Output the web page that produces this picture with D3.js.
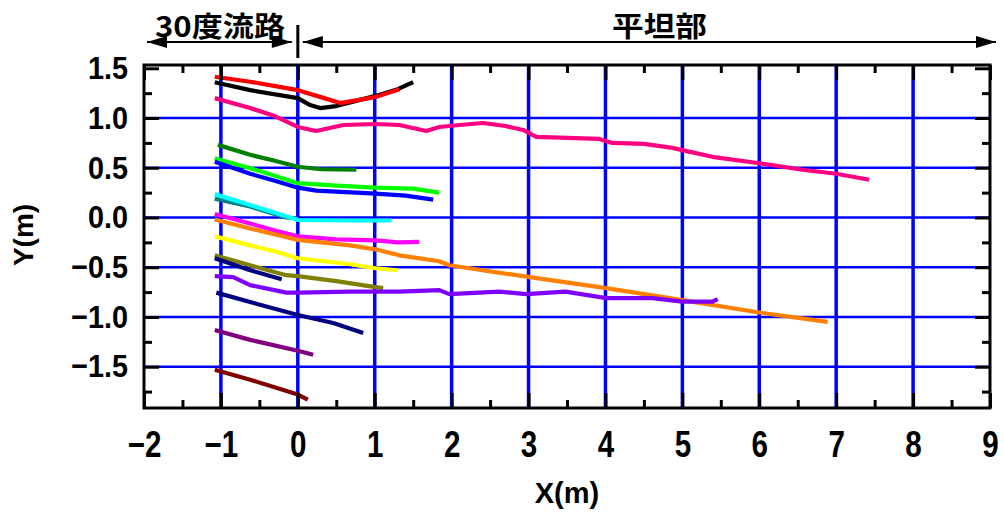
<!DOCTYPE html>
<html>
<head>
<meta charset="utf-8">
<script src="https://cdn.jsdelivr.net/npm/d3@7"></script>
<style>
  html, body { margin: 0; padding: 0; background: #fff; }
  svg { display: block; }
</style>
</head>
<body>
<svg id="chart" width="1004" height="518"></svg>
<script>
// ---------------- DATA ----------------
const xTickValues = [-2, -1, 0, 1, 2, 3, 4, 5, 6, 7, 8, 9];
const xTickLabels = ["−2", "−1", "0", "1", "2", "3", "4", "5", "6", "7", "8", "9"];
const yTickValues = [-1.5, -1.0, -0.5, 0.0, 0.5, 1.0, 1.5];
const yTickLabels = ["−1.5", "−1.0", "−0.5", "0.0", "0.5", "1.0", "1.5"];
const xGridValues = [-1, 0, 1, 2, 3, 4, 5, 6, 7, 8];
const yGridValues = [-1.5, -1.0, -0.5, 0.0, 0.5, 1.0];
const xMinorValues = [-1.5, -0.5, 0.5, 1.5, 2.5, 3.5, 4.5, 5.5, 6.5, 7.5, 8.5];
const yMinorValues = [-1.75, -1.25, -0.75, -0.25, 0.25, 0.75, 1.25];
const xAxisTitle = "X(m)";
const yAxisTitle = "Y(m)";
const sectionLabels = ["30度流路", "平坦部"];
const sectionBoundsX = [-2, 0, 9];

// trajectories [x(m), y(m)]
const trackBlack = [[-1.08,1.36],[-0.62,1.28],[0,1.20],[0.16,1.13],[0.29,1.10],[0.5,1.12],[1.0,1.22],[1.3,1.29],[1.5,1.36]];
const trackRed = [[-1.08,1.415],[-0.62,1.365],[0,1.28],[0.3,1.21],[0.55,1.15],[1.0,1.21],[1.32,1.29]];
const trackPink = [[-1.08,1.20],[-0.62,1.10],[-0.3,1.02],[0,0.91],[0.24,0.87],[0.59,0.93],[1.01,0.94],[1.32,0.93],[1.67,0.87],[1.84,0.91],[2.1,0.93],[2.41,0.95],[2.7,0.92],[2.93,0.88],[3.10,0.81],[3.5,0.80],[3.92,0.79],[4.09,0.75],[4.5,0.74],[4.87,0.70],[5.1,0.66],[5.39,0.61],[6.0,0.545],[6.56,0.48],[7.0,0.44],[7.43,0.38]];
const trackDarkGreen = [[-1.04,0.73],[-0.62,0.63],[-0.3,0.57],[0,0.51],[0.3,0.485],[0.76,0.48]];
const trackLime = [[-1.08,0.595],[-0.62,0.495],[-0.3,0.42],[0,0.345],[0.5,0.32],[1.01,0.30],[1.5,0.29],[1.84,0.25]];
const trackBlue = [[-1.08,0.56],[-0.62,0.44],[-0.3,0.37],[0,0.30],[0.24,0.27],[1.01,0.24],[1.4,0.22],[1.76,0.18]];
const trackTeal = [[-1.08,0.19],[-0.62,0.11],[-0.15,0.0],[0,-0.01]];
const trackCyan = [[-1.08,0.235],[-0.62,0.125],[-0.1,0.0],[0,-0.025],[0.6,-0.03],[1.22,-0.03]];
const trackMagenta = [[-1.08,0.035],[-0.62,-0.06],[-0.3,-0.13],[0,-0.19],[0.5,-0.22],[1.01,-0.23],[1.3,-0.25],[1.58,-0.245]];
const trackOrange = [[-1.08,-0.02],[-0.62,-0.11],[0,-0.225],[0.68,-0.28],[1.01,-0.32],[1.32,-0.38],[1.84,-0.44],[1.97,-0.48],[2.97,-0.595],[4.01,-0.71],[5.0,-0.83],[6.04,-0.96],[6.89,-1.05]];
const trackYellow = [[-1.08,-0.19],[-0.62,-0.28],[-0.3,-0.34],[0,-0.41],[0.68,-0.47],[1.01,-0.51],[1.30,-0.53]];
const trackOlive = [[-1.08,-0.38],[-0.62,-0.48],[-0.15,-0.58],[0,-0.59],[0.5,-0.64],[1.01,-0.70],[1.11,-0.71]];
const trackNavyShort = [[-1.08,-0.41],[-0.62,-0.53],[-0.21,-0.62]];
const trackViolet = [[-1.08,-0.59],[-0.84,-0.60],[-0.62,-0.68],[-0.15,-0.755],[0,-0.755],[0.68,-0.745],[1.01,-0.745],[1.32,-0.745],[1.84,-0.73],[1.97,-0.77],[2.62,-0.745],[2.97,-0.77],[3.48,-0.745],[4.01,-0.81],[4.61,-0.81],[5.0,-0.845],[5.39,-0.845],[5.46,-0.82]];
const trackNavyLong = [[-1.06,-0.755],[-0.62,-0.85],[0,-0.98],[0.46,-1.06],[0.85,-1.16]];
const trackPurple = [[-1.08,-1.13],[-0.62,-1.23],[0,-1.34],[0.2,-1.38]];
const trackMaroon = [[-1.08,-1.53],[-0.62,-1.63],[0,-1.78],[0.13,-1.83]];

const tracks = [trackBlack, trackRed, trackPink, trackDarkGreen, trackLime, trackBlue, trackTeal, trackCyan,
                trackMagenta, trackOrange, trackYellow, trackOlive, trackNavyShort, trackViolet, trackNavyLong,
                trackPurple, trackMaroon];
const trackColors = ["#000000", "#ff0000", "#ff0080", "#008000", "#00ff00", "#0000ff", "#008080", "#00ffff",
                     "#ff00ff", "#ff8000", "#ffff00", "#808000", "#000080", "#8000ff", "#000080",
                     "#800080", "#800000"];

// ---------------- LAYOUT ----------------
const svg = d3.select("#chart");
const L = 144, R = 990, T = 65, B = 408;
const x = d3.scaleLinear().domain([-2, 9]).range([L, R]);
const y = d3.scaleLinear().domain([-1.915, 1.533]).range([B, T]);
const fontLatin = "'Liberation Sans', Arial, Helvetica, sans-serif";
const fontCJK = "'Noto Sans CJK JP', 'Noto Sans CJK SC', sans-serif";

// grid
const grid = svg.append("g");
grid.selectAll("line.v").data(xGridValues).join("line")
  .attr("x1", d => x(d)).attr("x2", d => x(d)).attr("y1", T).attr("y2", B)
  .attr("stroke", "#0000ff").attr("stroke-width", 3.5);
grid.selectAll("line.h").data(yGridValues).join("line")
  .attr("x1", L).attr("x2", R).attr("y1", d => y(d)).attr("y2", d => y(d))
  .attr("stroke", "#0000ff").attr("stroke-width", 2.5);

// tracks
const line = d3.line().x(d => x(d[0])).y(d => y(d[1]));
svg.append("g").selectAll("path").data(tracks).join("path")
  .attr("d", line)
  .attr("fill", "none")
  .attr("stroke", (d, i) => trackColors[i])
  .attr("stroke-width", 4.2)
  .attr("stroke-linejoin", "round")
  .attr("stroke-linecap", "butt");

// axes (ticks inward on all sides)
function styleAxis(g) {
  g.select(".domain").remove();
  g.selectAll(".tick line").attr("stroke", "#000").attr("stroke-width", 3);
}
const majorLen = 15, minorLen = 8;
svg.append("g").attr("transform", `translate(0,${B})`)
  .call(d3.axisBottom(x).tickValues(xTickValues).tickSize(-majorLen).tickPadding(majorLen + 8)
        .tickFormat((d, i) => xTickLabels[i]))
  .call(styleAxis)
  .call(g => g.selectAll("text").attr("font-family", fontLatin).attr("font-size", 37)
        .attr("font-weight", "bold").attr("fill", "#000").attr("dy", null).attr("y", 49)
        .attr("transform", "scale(0.8,1)"));
svg.append("g").attr("transform", `translate(0,${B})`)
  .call(d3.axisBottom(x).tickValues(xMinorValues).tickSize(-minorLen).tickFormat(""))
  .call(styleAxis);
svg.append("g").attr("transform", `translate(0,${T})`)
  .call(d3.axisTop(x).tickValues(xTickValues).tickSize(-majorLen).tickFormat(""))
  .call(styleAxis);
svg.append("g").attr("transform", `translate(0,${T})`)
  .call(d3.axisTop(x).tickValues(xMinorValues).tickSize(-minorLen).tickFormat(""))
  .call(styleAxis);
svg.append("g").attr("transform", `translate(${L},0)`)
  .call(d3.axisLeft(y).tickValues(yTickValues).tickSize(-majorLen).tickPadding(16)
        .tickFormat((d, i) => yTickLabels[i]))
  .call(styleAxis)
  .call(g => g.selectAll("text").attr("font-family", fontLatin).attr("font-size", 32)
        .attr("font-weight", "bold").attr("fill", "#000").attr("x", -16)
        .attr("transform", "translate(-16,0) scale(0.9,1) translate(16,0)"));
svg.append("g").attr("transform", `translate(${L},0)`)
  .call(d3.axisLeft(y).tickValues(yMinorValues).tickSize(-minorLen).tickFormat(""))
  .call(styleAxis);
svg.append("g").attr("transform", `translate(${R},0)`)
  .call(d3.axisRight(y).tickValues(yTickValues).tickSize(-majorLen).tickFormat(""))
  .call(styleAxis);
svg.append("g").attr("transform", `translate(${R},0)`)
  .call(d3.axisRight(y).tickValues(yMinorValues).tickSize(-minorLen).tickFormat(""))
  .call(styleAxis);

// frame
svg.append("rect").attr("x", L).attr("y", T).attr("width", R - L).attr("height", B - T)
  .attr("fill", "none").attr("stroke", "#000").attr("stroke-width", 3);

// axis titles
svg.append("text").text(xAxisTitle)
  .attr("x", (L + R) / 2).attr("y", 503).attr("text-anchor", "middle")
  .attr("font-family", fontLatin).attr("font-size", 29).attr("font-weight", "bold");
svg.append("text").text(yAxisTitle)
  .attr("transform", "translate(33,235) rotate(-90)").attr("text-anchor", "middle")
  .attr("font-family", fontLatin).attr("font-size", 28).attr("font-weight", "bold");

// section annotation arrows
const ay = 42;
const ann = svg.append("g");
function arrowHead(tipX, dir) { // dir -1 points left, +1 points right
  const len = 20, half = 6;
  return `M${tipX},${ay} L${tipX - dir * len},${ay - half} L${tipX - dir * len},${ay + half} Z`;
}
const xb0 = x(sectionBoundsX[0]), xb1 = x(sectionBoundsX[1]), xb2 = x(sectionBoundsX[2]);
ann.append("line").attr("x1", xb0 + 3).attr("x2", xb1 - 6).attr("y1", ay).attr("y2", ay)
  .attr("stroke", "#000").attr("stroke-width", 2);
ann.append("path").attr("d", arrowHead(xb0 + 3, -1));
ann.append("path").attr("d", arrowHead(xb1 - 6, 1));
ann.append("line").attr("x1", xb1).attr("x2", xb1).attr("y1", 25).attr("y2", 58)
  .attr("stroke", "#000").attr("stroke-width", 3);
ann.append("line").attr("x1", xb1 + 5).attr("x2", xb2 + 6).attr("y1", ay).attr("y2", ay)
  .attr("stroke", "#000").attr("stroke-width", 2);
ann.append("path").attr("d", arrowHead(xb1 + 5, -1));
ann.append("path").attr("d", arrowHead(xb2 + 6, 1));
ann.append("text").text(sectionLabels[0])
  .attr("x", 155).attr("y", 37)
  .attr("textLength", 130).attr("lengthAdjust", "spacingAndGlyphs")
  .attr("font-family", fontCJK).attr("font-size", 28).attr("font-weight", "bold");
ann.append("text").text(sectionLabels[1])
  .attr("x", 612).attr("y", 37)
  .attr("textLength", 95).attr("lengthAdjust", "spacingAndGlyphs")
  .attr("font-family", fontCJK).attr("font-size", 28).attr("font-weight", "bold");
</script>
</body>
</html>
